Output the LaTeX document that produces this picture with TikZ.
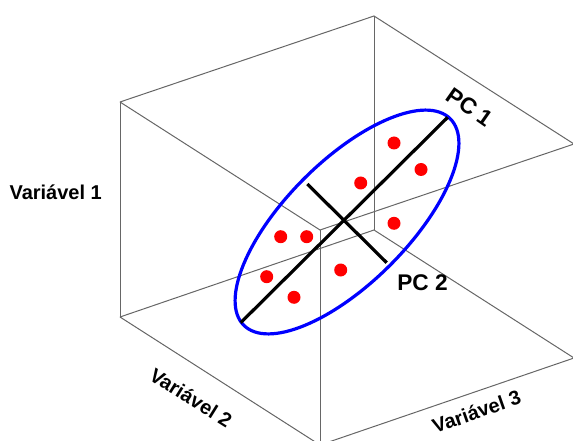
\documentclass[tikz,border=0pt]{standalone}
\usepackage{fontspec}
\setmainfont{Liberation Sans}
\begin{document}
\begin{tikzpicture}[x=0.75pt,y=-0.75pt,
  edge/.style={draw=black!60, line width=0.75pt},
  pcline/.style={draw=black, line width=2.4pt},
  ell/.style={draw=blue, line width=2.4pt},
  dot/.style={circle, fill=red, draw=none, inner sep=0pt, minimum size=9.75pt},
  lab/.style={font=\bfseries\fontsize{15}{18}\selectfont, inner sep=0pt},
  pclab/.style={font=\bfseries\fontsize{17}{20}\selectfont, inner sep=0pt}]
\useasboundingbox (0,0) rectangle (573,441);
% box vertices
\coordinate (A) at (374,16);
\coordinate (B) at (120,102);
\coordinate (C) at (574,144);
\coordinate (D) at (320,230);
\coordinate (E) at (374,230);
\coordinate (F) at (120,317);
\coordinate (G) at (320,445);
\coordinate (H) at (574,358);
% edges
\draw[edge] (B) -- (A) -- (C) -- (D) -- (B);
\draw[edge] (A) -- (E);
\draw[edge] (B) -- (F);
\draw[edge] (D) -- (G);
\draw[edge] (F) -- (E) -- (H) -- (G) -- (F);
% ellipse
\coordinate (O) at (347,222);
\draw[ell, rotate around={45:(O)}] (O) ellipse [x radius=146, y radius=61];
% principal components
\coordinate (p1a) at (240.7,322.7);
\coordinate (p1b) at (447.7,117.3);
\coordinate (p2a) at (307.3,184);
\coordinate (p2b) at (386.7,262.7);
\draw[pcline] (p1a) -- (p1b);
\draw[pcline] (p2a) -- (p2b);
% data points
\node[dot] (d1) at (394,143) {};
\node[dot] (d2) at (421,169.5) {};
\node[dot] (d3) at (360.7,183) {};
\node[dot] (d4) at (394,223.3) {};
\node[dot] (d5) at (280.7,236.7) {};
\node[dot] (d6) at (306.7,236.7) {};
\node[dot] (d7) at (340.7,270) {};
\node[dot] (d8) at (266.7,276.7) {};
\node[dot] (d9) at (294,297.3) {};
% labels
\node[lab] (v1) at (55.7,192) {Variável 1};
\node[lab, rotate=-32] (v2) at (191,397.5) {Variável 2};
\node[lab, rotate=19.5] (v3) at (476.5,411.7) {Variável 3};
\node[pclab, rotate=-35] (pc1) at (470,107.3) {PC 1};
\node[pclab] (pc2) at (422.5,282.3) {PC 2};
\end{tikzpicture}
\end{document}
